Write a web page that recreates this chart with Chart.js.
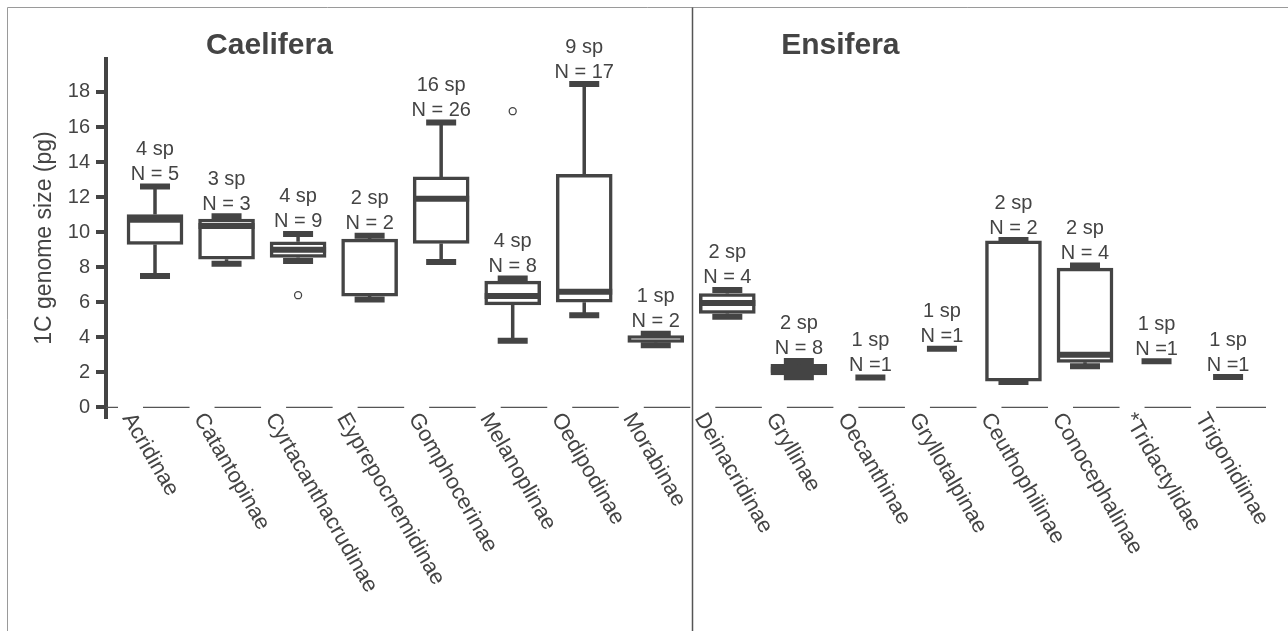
<!DOCTYPE html>
<html>
<head>
<meta charset="utf-8">
<title>1C genome size</title>
<script src="https://cdn.jsdelivr.net/npm/chart.js"></script>
<style>
  body { margin: 0; background: #fff; }
  #wrap { width: 1288px; height: 631px; position: relative; }
</style>
</head>
<body>
<div id="wrap"><canvas id="boxChart"></canvas></div>
<script>
const categories = ['Acridinae','Catantopinae','Cyrtacanthacrudinae','Eyprepocnemidinae','Gomphocerinae','Melanoplinae','Oedipodinae','Morabinae',
  'Deinacridinae','Gryllinae','Oecanthinae','Gryllotalpinae','Ceuthophilinae','Conocephalinae','*Tridactylidae','Trigonidiinae']
const groups = ['Caelifera', 'Ensifera']

// box plot values (pg)
const mins    = [7.5, 8.2, 8.35, 6.15, 8.3, 3.8, 5.25, 3.55, 5.17, 1.72, 1.7, 3.35, 1.45, 2.35, 2.63, 1.73]
const q1s     = [9.3, 8.45, 8.55, 6.35, 9.35, 5.85, 6.0, 3.7, 5.36, 1.85, null, null, 1.5, 2.57, null, null]
const medians = [10.7, 10.35, 9.0, null, 11.9, 6.35, 6.6, null, 5.95, 2.15, 1.7, 3.35, null, 3.0, 2.63, 1.73]
const q3s     = [11.0, 10.75, 9.45, 9.6, 13.15, 7.2, 13.3, 4.1, 6.5, 2.45, null, null, 9.5, 7.95, null, null]
const maxs    = [12.6, 10.9, 9.9, 9.8, 16.25, 7.35, 18.45, 4.2, 6.7, 2.65, 1.7, 3.35, 9.55, 8.1, 2.63, 1.73]
const outlierCats   = [2, 5]
const outlierValues = [6.4, 16.9]

const species = [4, 3, 4, 2, 16, 4, 9, 1, 2, 2, 1, 1, 2, 2, 1, 1]
const nValues = [5, 3, 9, 2, 26, 8, 17, 2, 4, 8, 1, 1, 2, 4, 1, 1]

const yTicks = [0, 2, 4, 6, 8, 10, 12, 14, 16, 18]

const ink = '#444444'
const font = '"Liberation Sans", Arial, sans-serif'

const boxData = []
categories.forEach((c, i) => {
  if (q1s[i] != null) boxData.push({ x: i, y: [q1s[i], q3s[i]] })
})
const outlierData = outlierCats.map((c, i) => ({ x: c, y: outlierValues[i] }))

const boxParts = {
  id: 'boxParts',
  afterDatasetsDraw(chart) {
    const ctx = chart.ctx
    const xs = chart.scales.x
    const ys = chart.scales.y
    ctx.save()
    ctx.strokeStyle = ink
    ctx.lineCap = 'butt'
    categories.forEach((c, i) => {
      const cx = xs.getPixelForValue(i)
      const hasBox = q1s[i] != null
      // whiskers
      if (hasBox) {
        ctx.lineWidth = 3.5
        ctx.beginPath()
        ctx.moveTo(cx, ys.getPixelForValue(q3s[i]))
        ctx.lineTo(cx, ys.getPixelForValue(maxs[i]))
        ctx.moveTo(cx, ys.getPixelForValue(q1s[i]))
        ctx.lineTo(cx, ys.getPixelForValue(mins[i]))
        ctx.stroke()
      }
      // caps
      ctx.lineWidth = 6
      ctx.beginPath()
      ;[mins[i], maxs[i]].forEach(v => {
        const py = ys.getPixelForValue(v)
        ctx.moveTo(cx - 15, py)
        ctx.lineTo(cx + 15, py)
      })
      ctx.stroke()
      // median
      if (medians[i] != null && hasBox) {
        const py = ys.getPixelForValue(medians[i])
        ctx.lineWidth = 6
        ctx.beginPath()
        ctx.moveTo(cx - 28, py)
        ctx.lineTo(cx + 28, py)
        ctx.stroke()
      }
    })
    ctx.restore()
  },
  afterDraw(chart) {
    const ctx = chart.ctx
    const xs = chart.scales.x
    const ys = chart.scales.y
    const area = chart.chartArea
    const y0 = ys.getPixelForValue(0)
    ctx.save()

    // frame and divider
    ctx.strokeStyle = '#9a9a9a'
    ctx.lineWidth = 1
    ctx.beginPath()
    ctx.moveTo(7.5, 631)
    ctx.lineTo(7.5, 7.5)
    ctx.lineTo(1288, 7.5)
    ctx.stroke()
    const divX = Math.round(xs.getPixelForValue(7.5)) + 0.5
    ctx.strokeStyle = '#555'
    ctx.lineWidth = 1.5
    ctx.beginPath()
    ctx.moveTo(divX, 7.5)
    ctx.lineTo(divX, 631)
    ctx.stroke()

    // baseline broken by the labels
    ctx.strokeStyle = '#555'
    ctx.lineWidth = 1.3
    ctx.beginPath()
    let start = area.left
    categories.forEach((c, i) => {
      const cx = xs.getPixelForValue(i)
      ctx.moveTo(start, y0)
      ctx.lineTo(cx - 37, y0)
      start = cx - 12
    })
    ctx.moveTo(start, y0)
    ctx.lineTo(area.right, y0)
    ctx.stroke()

    // category labels
    ctx.fillStyle = ink
    ctx.font = '22px ' + font
    ctx.textAlign = 'left'
    ctx.textBaseline = 'alphabetic'
    categories.forEach((c, i) => {
      const cx = xs.getPixelForValue(i)
      ctx.save()
      ctx.translate(cx - 33, 418)
      ctx.rotate(Math.PI / 3)
      ctx.fillText(c, 0, 0)
      ctx.restore()
    })

    // sp / N annotations
    ctx.font = '20px ' + font
    ctx.textAlign = 'center'
    ctx.textBaseline = 'middle'
    categories.forEach((c, i) => {
      const cx = xs.getPixelForValue(i)
      const top = ys.getPixelForValue(maxs[i])
      const nText = nValues[i] === 1 ? 'N =1' : 'N = ' + nValues[i]
      ctx.fillText(species[i] + ' sp', cx, top - 37)
      ctx.fillText(nText, cx, top - 12)
    })

    // group titles
    ctx.font = 'bold 30px ' + font
    ctx.fillText(groups[0], xs.getPixelForValue(1.6), 46)
    ctx.fillText(groups[1], xs.getPixelForValue(9.58), 46)
    ctx.restore()
  }
}

const boxCanvas = document.getElementById('boxChart')
const boxChart = new Chart(boxCanvas, {
  type: 'bar',
  data: {
    datasets: [{
      label: 'box',
      data: boxData,
      backgroundColor: '#ffffff',
      borderColor: ink,
      borderWidth: 3.5,
      borderSkipped: false,
      barThickness: 56,
      grouped: false,
    }, {
      type: 'scatter',
      label: 'outliers',
      data: outlierData,
      pointRadius: 3.5,
      pointBackgroundColor: '#ffffff',
      pointBorderColor: ink,
      pointBorderWidth: 1.3,
    }],
  },
  options: {
    responsive: true,
    maintainAspectRatio: false,
    animation: false,
    layout: { padding: { top: 59, bottom: 214, left: 0, right: 22 } },
    plugins: { legend: { display: false }, tooltip: { enabled: false } },
    scales: {
      x: { type: 'linear', min: -0.685, max: 15.53, offset: false, display: false },
      y: {
        min: -0.55,
        max: 19.88,
        afterBuildTicks: (scale) => { scale.ticks = yTicks.map(v => ({ value: v })) },
        afterFit: (scale) => { scale.width = 106 },
        ticks: { color: ink, font: { family: font, size: 20 }, padding: 6 },
        grid: { drawOnChartArea: false, drawTicks: true, tickLength: 10, lineWidth: 4, color: ink },
        border: { display: true, width: 4, color: ink },
        title: { display: true, text: '1C genome size (pg)', color: ink, font: { family: font, size: 23 }, padding: { top: 31, bottom: 0 } },
      },
    },
  },
  plugins: [boxParts],
})
</script>
</body>
</html>
